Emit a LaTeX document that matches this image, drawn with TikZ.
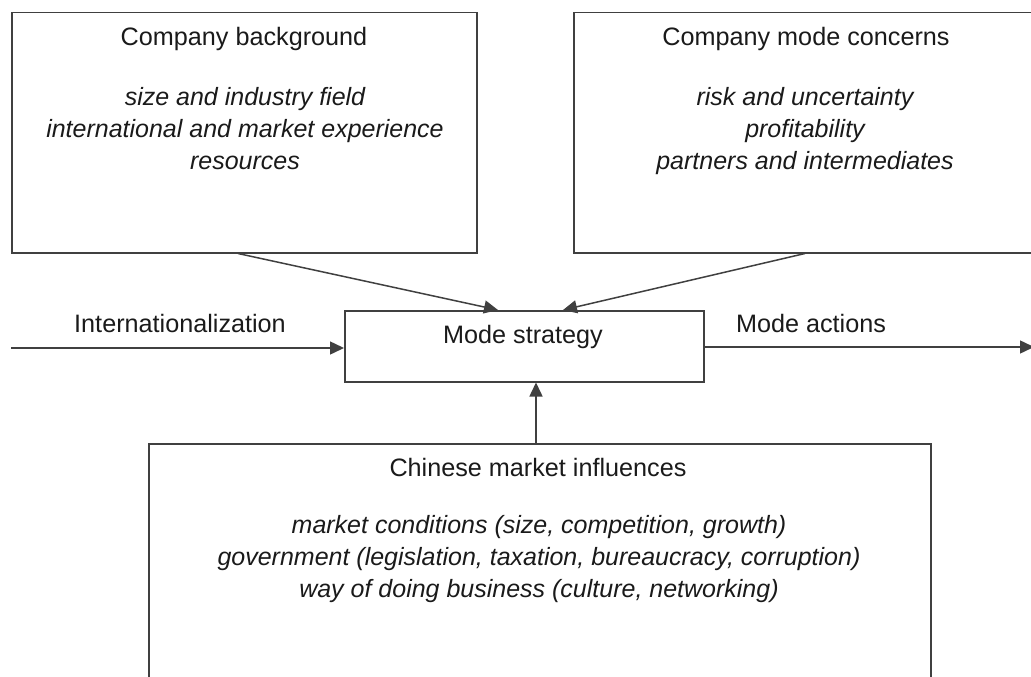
\documentclass[tikz,border=0pt]{standalone}
\usepackage{fontspec}
\setmainfont{Liberation Sans}
\usetikzlibrary{arrows.meta,calc}
\definecolor{linegray}{HTML}{404040}
\definecolor{textdark}{HTML}{1A1A1A}
\begin{document}
\begin{tikzpicture}[x=1pt,y=-1pt,
  box/.style={draw=linegray,line width=1.5pt,rectangle,inner sep=0pt,anchor=north west},
  lbl/.style={anchor=base,inner sep=0pt,text=textdark,font=\fontsize{25.2}{32}\selectfont},
  itl/.style={lbl,font=\fontsize{25}{32}\selectfont\itshape,align=center},
  arr/.style={draw=linegray,line width=1.5pt,-{Triangle[length=14pt,width=13pt]}}]
\useasboundingbox (0,0) rectangle (1031,677);
% boxes
\node[box,minimum width=465pt,minimum height=240pt] (cb) at (11,12) {};
\node[box,minimum width=480pt,minimum height=240pt] (cm) at (573,12) {};
\node[box,minimum width=359pt,minimum height=71pt] (ms) at (344,310) {};
\node[box,minimum width=782pt,minimum height=260pt] (cmi) at (148,443) {};
% texts
\node[lbl] (cbt) at (244,46) {Company background};
\node[itl,anchor=north] (cbl) at (245,87) {size and industry field\\international and market experience\\resources};
\node[lbl] (cmt) at (806,46) {Company mode concerns};
\node[itl,anchor=north] (cml) at (805,87) {risk and uncertainty\\profitability\\partners and intermediates};
\node[lbl] (mst) at (523,343) {Mode strategy};
\node[lbl] (intl) at (180,332) {Internationalization};
\node[lbl] (mact) at (811,332) {Mode actions};
\node[lbl] (cmit) at (538,476) {Chinese market influences};
\node[itl,anchor=north] (cmil) at (539,515) {market conditions (size, competition, growth)\\government (legislation, taxation, bureaucracy, corruption)\\way of doing business (culture, networking)};
% connectors
\coordinate (inStart) at (11,348);
\coordinate (outEnd) at (1034,347);
\draw[arr] (inStart) -- (inStart -| ms.west);
\draw[arr] (outEnd -| ms.east) -- (outEnd);
\draw[arr] ($(cb.south west)+(227,0)$) -- ($(ms.north west)+(154,0)$);
\draw[arr] ($(cm.south west)+(232,0)$) -- ($(ms.north west)+(219,0)$);
\draw[arr] ($(cmi.north west)+(388,0)$) -- ($(ms.south west)+(192,0)$);
\end{tikzpicture}
\end{document}
